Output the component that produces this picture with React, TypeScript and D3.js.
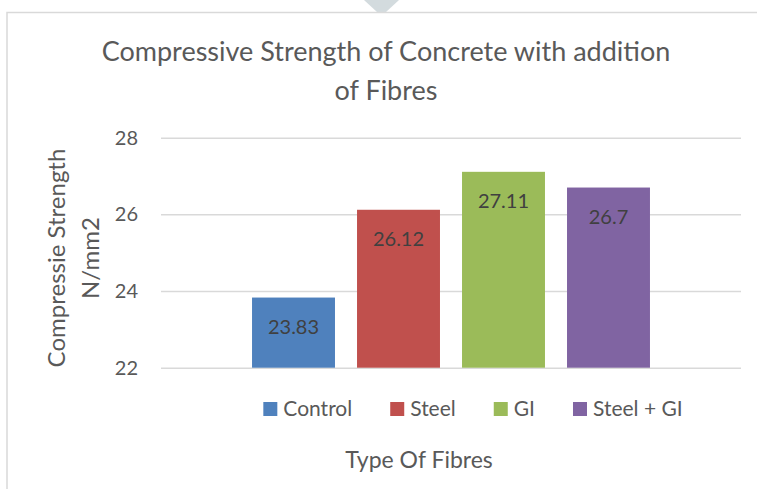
import React, { useEffect, useRef } from 'react';
import * as d3 from 'd3';

const fibreTypes = ['Control', 'Steel', 'GI', 'Steel + GI'];
const strengths = [23.83, 26.12, 27.11, 26.7];
const barColors = ['#4f81bd', '#c0504d', '#9bbb59', '#8064a2'];
const yTicks = [22, 24, 26, 28];
const titleLines = ['Compressive Strength of Concrete with addition', 'of Fibres'];
const yTitleLines = ['Compressie Strength', 'N/mm2'];
const xTitle = 'Type Of Fibres';

const W = 757;
const H = 489;
const FONT = "Lato, 'Open Sans', sans-serif";

const App = () => {
  const chartRef = useRef<SVGSVGElement>(null);

  useEffect(() => {
    if (!chartRef.current) return;
    const svg = d3.select(chartRef.current).html('');

    const plot = { left: 161, right: 741, top: 137.7, bottom: 367.7 };

    const x = d3.scaleBand()
      .domain(fibreTypes)
      .range([plot.left, plot.right])
      .paddingInner(0.21)
      .paddingOuter(0.867);

    const y = d3.scaleLinear()
      .domain([22, 28])
      .range([plot.bottom, plot.top]);

    const data = fibreTypes.map((name, i) => ({ name, value: strengths[i], color: barColors[i] }));

    // chart area border + the little watermark peeking in at the top
    svg.append('path')
      .attr('d', 'M364,0 L399,0 L386,12 L377,12 Z')
      .attr('fill', '#d3dbde');
    svg.append('rect')
      .attr('x', 7).attr('y', 12.5)
      .attr('width', W + 20).attr('height', H + 20)
      .attr('fill', 'none')
      .attr('stroke', '#d9d9d9')
      .attr('stroke-width', 1.5);

    // title
    svg.append('text')
      .attr('text-anchor', 'middle')
      .attr('font-family', FONT)
      .attr('font-size', 27)
      .attr('fill', '#595959')
      .selectAll('tspan')
      .data(titleLines)
      .enter().append('tspan')
      .attr('x', 386)
      .attr('y', (_, i) => 61 + i * 39)
      .text(d => d);

    // gridlines + y ticks
    const yAxis = svg.append('g')
      .attr('transform', `translate(${plot.left},0)`)
      .call(d3.axisLeft(y)
        .tickValues(yTicks)
        .tickFormat(d3.format('d'))
        .tickSize(-(plot.right - plot.left))
        .tickPadding(23));
    yAxis.select('.domain').remove();
    yAxis.selectAll('line').attr('stroke', '#d9d9d9').attr('stroke-width', 1.5);
    yAxis.selectAll('text')
      .attr('font-family', FONT)
      .attr('font-size', 20)
      .attr('fill', '#595959');

    // bars
    svg.selectAll('.bar')
      .data(data)
      .enter().append('rect')
      .attr('class', 'bar')
      .attr('x', d => x(d.name)!)
      .attr('y', d => y(d.value))
      .attr('width', x.bandwidth())
      .attr('height', d => y(22) - y(d.value))
      .attr('fill', d => d.color);

    // value labels inside the top of each bar
    svg.selectAll('.label')
      .data(data)
      .enter().append('text')
      .attr('class', 'label')
      .attr('x', d => x(d.name)! + x.bandwidth() / 2)
      .attr('y', d => y(d.value) + 36)
      .attr('text-anchor', 'middle')
      .attr('font-family', FONT)
      .attr('font-size', 20)
      .attr('fill', '#404040')
      .text(d => d.value);

    // y axis title (two lines, rotated)
    yTitleLines.forEach((line, i) => {
      const bx = 65 + i * 34;
      svg.append('text')
        .attr('transform', `translate(${bx},258) rotate(-90)`)
        .attr('text-anchor', 'middle')
        .attr('font-family', FONT)
        .attr('font-size', 24)
        .attr('fill', '#595959')
        .text(line);
    });

    // x axis title
    svg.append('text')
      .attr('x', 419)
      .attr('y', 468)
      .attr('text-anchor', 'middle')
      .attr('font-family', FONT)
      .attr('font-size', 23)
      .attr('fill', '#595959')
      .text(xTitle);

    // legend, centred, spacing from measured text widths
    const sq = 14;
    const gapText = 6;
    const gapItem = 38;
    const legend = svg.append('g');
    const items = legend.selectAll('g')
      .data(data)
      .enter().append('g');
    items.append('rect')
      .attr('width', sq).attr('height', sq)
      .attr('y', 402)
      .attr('fill', d => d.color);
    items.append('text')
      .attr('y', 416)
      .attr('font-family', FONT)
      .attr('font-size', 21)
      .attr('fill', '#595959')
      .text(d => d.name);

    const widths: number[] = [];
    items.select('text').each(function () {
      widths.push((this as SVGTextElement).getComputedTextLength());
    });
    const total = d3.sum(widths) + data.length * (sq + gapText) + (data.length - 1) * gapItem;
    let cx = 473 - total / 2;
    items.each(function (_, i) {
      const g = d3.select(this);
      g.select('rect').attr('x', cx);
      g.select('text').attr('x', cx + sq + gapText);
      cx += sq + gapText + widths[i] + gapItem;
    });
  }, []);

  return (
    <svg
      ref={chartRef}
      width={W}
      height={H}
      style={{ position: 'absolute', left: 0, top: 0, background: '#fff', display: 'block' }}
    />
  );
};

export default App;
